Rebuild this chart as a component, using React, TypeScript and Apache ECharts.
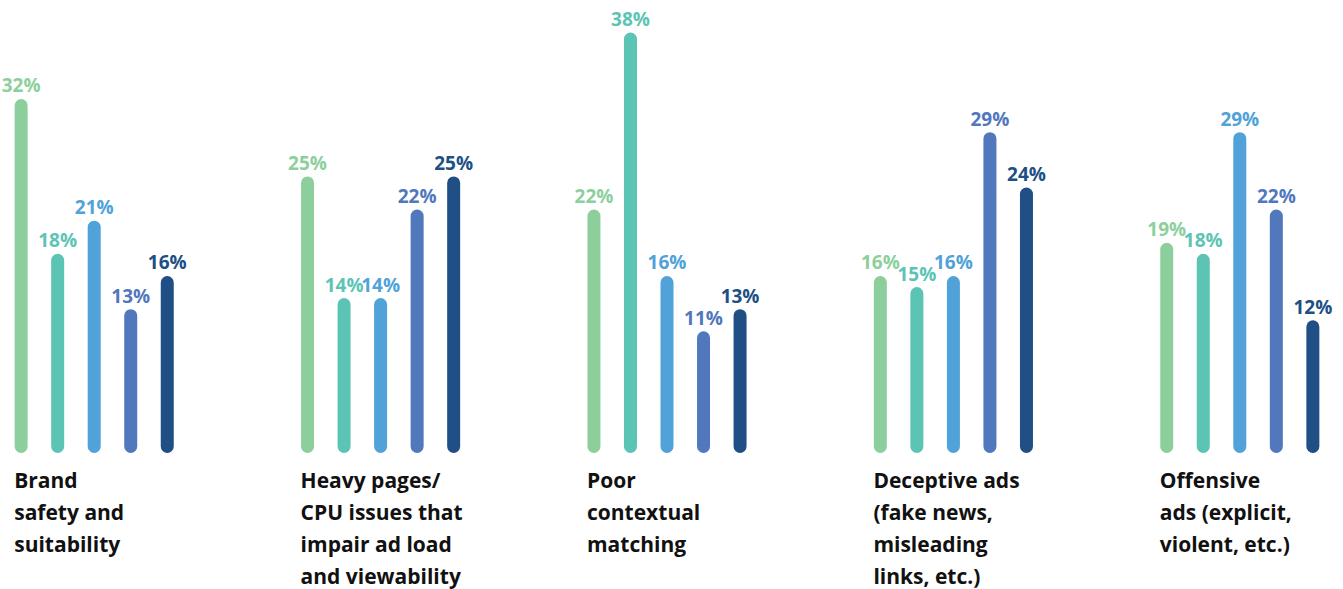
import React, { useEffect, useRef } from "react";
import * as echarts from "echarts";

const categories = [
  "Brand\nsafety and\nsuitability",
  "Heavy pages/\nCPU issues that\nimpair ad load\nand viewability",
  "Poor\ncontextual\nmatching",
  "Deceptive ads\n(fake news,\nmisleading\nlinks, etc.)",
  "Offensive\nads (explicit,\nviolent, etc.)",
];

const series1 = [32, 25, 22, 16, 19];
const series2 = [18, 14, 38, 15, 18];
const series3 = [21, 14, 16, 16, 29];
const series4 = [13, 22, 11, 29, 22];
const series5 = [16, 25, 13, 24, 12];

const seriesData = [series1, series2, series3, series4, series5];
const colors = ["#8dcf9c", "#5cc4b4", "#50a2d9", "#5177bd", "#204f85"];

const FONT = "'Open Sans', Lato, sans-serif";

export default function App() {
  const ref = useRef<HTMLDivElement>(null);
  useEffect(() => {
    if (!ref.current) return;
    const chart = echarts.init(ref.current, undefined, { renderer: "svg" });
    chart.setOption({
      animation: false,
      grid: { left: 0, right: 0, top: 16, bottom: 136, containLabel: false },
      xAxis: {
        type: "category",
        data: categories,
        axisLine: { show: false },
        axisTick: { show: false },
        axisLabel: {
          interval: 0,
          margin: 11,
          formatter: (v: string) =>
            v
              .split("\n")
              .map((l) => "{a|" + l + "}")
              .join("\n"),
          rich: {
            a: {
              width: 160,
              align: "left",
              fontFamily: FONT,
              fontWeight: "bold",
              fontSize: 21,
              lineHeight: 32,
              color: "#111111",
            },
          },
          align: "center",
          verticalAlign: "top",
        },
      },
      yAxis: {
        type: "value",
        min: 0,
        max: 39.5,
        show: false,
        splitLine: { show: false },
      },
      series: seriesData.map((d, i) => ({
        type: "bar",
        data: d,
        barWidth: 13,
        barGap: "181%",
        itemStyle: { color: colors[i], borderRadius: 6.5 },
        label: {
          show: true,
          position: "top",
          distance: 4,
          formatter: "{c}%",
          color: colors[i],
          fontFamily: FONT,
          fontWeight: "bold",
          fontSize: 19,
        },
      })),
    });
    return () => chart.dispose();
  }, []);
  return (
    <div
      ref={ref}
      style={{ position: "fixed", left: -49, top: 0, width: 1432, height: 589, background: "#fff" }}
    />
  );
}
